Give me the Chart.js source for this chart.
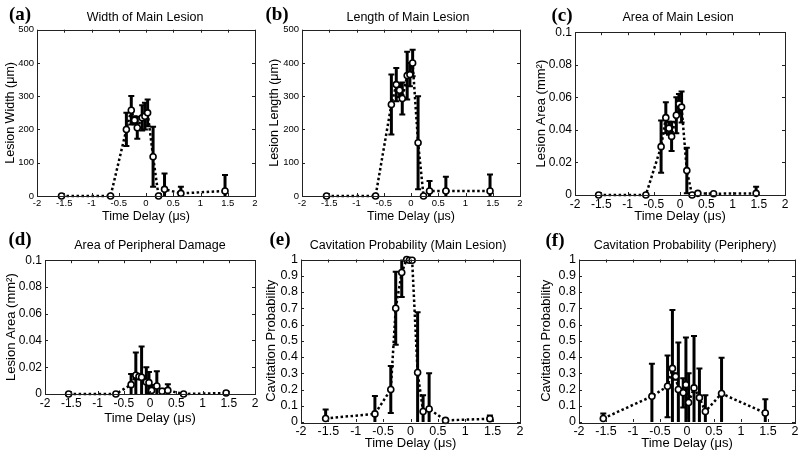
<!DOCTYPE html>
<html>
<head>
<meta charset="utf-8">
<script src="https://cdn.jsdelivr.net/npm/chart.js@4.4.0/dist/chart.umd.min.js"></script>
<style>
html, body { margin:0; padding:0; background:#fff; overflow:hidden; width:800px; height:451px; position:relative; }
canvas { position:absolute; }
.ttl { position:absolute; transform:translate(-50%,-50%); font-family:"Liberation Sans", Arial, sans-serif; font-size:12.5px; white-space:nowrap; color:#000; }
.lbl { position:absolute; transform:translate(-50%,-50%); font-family:"Liberation Serif", serif; font-weight:bold; font-size:19px; color:#000; }
</style>
</head>
<body>
<script>
// time delays (us), shared by all panels
var delays = [-1.55, -0.65, -0.36, -0.27, -0.21, -0.16, -0.07, -0.02, 0.03, 0.13, 0.23, 0.34, 0.64, 1.45];

var widthMain = [0, 0, 200, 258, 228, 205, 235, 240, 250, 118, 0, 20, 8, 15];
var widthErr  = [0, 0, 50, 43, 12, 33, 38, 40, 40, 90, 0, 48, 20, 48];

var lengthMain = [0, 0, 275, 335, 318, 293, 362, 365, 400, 160, 0, 15, 15, 15];
var lengthErr  = [0, 0, 90, 50, 20, 48, 72, 35, 40, 140, 0, 30, 43, 50];

var areaMain = [0, 0, 0.0297, 0.0475, 0.041, 0.036, 0.049, 0.056, 0.054, 0.015, 0, 0.001, 0.0008, 0.001];
var areaErr  = [0, 0, 0.016, 0.0095, 0.004, 0.009, 0.011, 0.006, 0.0095, 0.014, 0, 0, 0, 0.004];

var areaPeri = [0, 0, 0.007, 0.014, 0.013, 0.0125, 0.009, 0.0085, 0.0027, 0.006, 0.002, 0.0027, 0, 0.0007];
var areaPeriErr = [0, 0, 0.008, 0.017, 0.002, 0.023, 0.011, 0.008, 0.004, 0.011, 0.002, 0.0045, 0, 0.0013];

var probMain = [0.022, 0.05, 0.2, 0.70, null, 0.92, 1.0, 0.995, 0.995, 0.305, 0.065, 0.08, 0.01, 0.02];
var probMainErr = [0.055, 0.11, 0.145, 0.225, 0, 0.15, 0, 0, 0, 0.37, 0.1, 0.22, 0, 0.02];

var probPeri = [0.022, 0.158, 0.22, 0.33, 0.28, 0.20, 0.18, 0.23, 0.12, 0.21, 0.15, 0.065, 0.175, 0.055];
var probPeriErr = [0.03, 0.2, 0.19, 0.36, 0.02, 0.29, 0.09, 0.29, 0.18, 0.32, 0.18, 0.1, 0.22, 0.085];

var panels = [
  {letter:'(a)', title:'Width of Main Lesion', yLabel:'Lesion Width (μm)', vals:widthMain, err:widthErr, yMax:500, yStep:100,
   area:[37,29,255,196], yTitleX:10, xTitleY:216, tick:9.5, tf:12.5, tx:145, ty:17, lx:20, ly:14},
  {letter:'(b)', title:'Length of Main Lesion', yLabel:'Lesion Length (μm)', vals:lengthMain, err:lengthErr, yMax:500, yStep:100,
   area:[302,29,520,196], yTitleX:274, xTitleY:216, tick:9.5, tf:12.5, tx:408, ty:17, lx:277, ly:14},
  {letter:'(c)', title:'Area of Main Lesion', yLabel:'Lesion Area (mm²)', vals:areaMain, err:areaErr, yMax:0.1, yStep:0.02,
   area:[575,30,785,195], yTitleX:542, xTitleY:216, tick:12, tf:13, tx:678, ty:17, lx:562, ly:15},
  {letter:'(d)', title:'Area of Peripheral Damage', yLabel:'Lesion Area (mm²)', vals:areaPeri, err:areaPeriErr, yMax:0.1, yStep:0.02,
   area:[45,258,255,394], yTitleX:12, xTitleY:418, tick:12, tf:13, tx:150, ty:245, lx:20, ly:239},
  {letter:'(e)', title:'Cavitation Probability (Main Lesion)', yLabel:'Cavitation Probability', vals:probMain, err:probMainErr, yMax:1, yStep:0.1,
   area:[301,257,520,422], yTitleX:272, xTitleY:443, tick:12.5, tf:13, tx:408, ty:245, lx:280, ly:239},
  {letter:'(f)', title:'Cavitation Probability (Periphery)', yLabel:'Cavitation Probability', vals:probPeri, err:probPeriErr, yMax:1, yStep:0.1,
   area:[579,257,795,422], yTitleX:547, xTitleY:443, tick:12.5, tf:13, tx:685, ty:245, lx:555, ly:240}
];

var FONT = '"Liberation Sans", Arial, sans-serif';
function fmt(v) { return String(Math.round(v * 10000) / 10000); }

// error bars under the points, box + inward ticks on top
var matlabLook = {
  id: 'matlabLook',
  beforeDatasetsDraw: function(chart) {
    var ctx = chart.ctx, a = chart.chartArea, xs = chart.scales.x, ys = chart.scales.y;
    var ds = chart.data.datasets[0];
    ctx.save();
    ctx.beginPath();
    ctx.rect(a.left, a.top, a.right - a.left, a.bottom - a.top);
    ctx.clip();
    ctx.strokeStyle = '#000';
    ds.data.forEach(function(p) {
      if (!p.e) return;
      var px = xs.getPixelForValue(p.x);
      var y1 = ys.getPixelForValue(p.y - p.e), y2 = ys.getPixelForValue(p.y + p.e);
      ctx.lineWidth = 3;
      ctx.beginPath(); ctx.moveTo(px, y1); ctx.lineTo(px, y2); ctx.stroke();
      ctx.lineWidth = 2;
      ctx.beginPath();
      ctx.moveTo(px - 3, y1); ctx.lineTo(px + 3, y1);
      ctx.moveTo(px - 3, y2); ctx.lineTo(px + 3, y2);
      ctx.stroke();
    });
    ctx.restore();
  },
  afterDraw: function(chart) {
    var ctx = chart.ctx, a = chart.chartArea, xs = chart.scales.x, ys = chart.scales.y;
    ctx.save();
    ctx.strokeStyle = '#222';
    ctx.lineWidth = 1;
    ctx.strokeRect(Math.round(a.left) + 0.5, Math.round(a.top) + 0.5, Math.round(a.right - a.left), Math.round(a.bottom - a.top));
    ctx.beginPath();
    xs.ticks.forEach(function(t) {
      var px = Math.round(xs.getPixelForValue(t.value)) + 0.5;
      ctx.moveTo(px, a.bottom); ctx.lineTo(px, a.bottom - 3);
      ctx.moveTo(px, a.top); ctx.lineTo(px, a.top + 3);
    });
    ys.ticks.forEach(function(t) {
      var py = Math.round(ys.getPixelForValue(t.value)) + 0.5;
      ctx.moveTo(a.left, py); ctx.lineTo(a.left + 3, py);
      ctx.moveTo(a.right, py); ctx.lineTo(a.right - 3, py);
    });
    ctx.stroke();
    ctx.restore();
  }
};

panels.forEach(function(p) {
  var L = p.area[0], T = p.area[1], R = p.area[2], B = p.area[3];
  var lh = p.tf * 1.2;
  var pt = 8, pr = 7;
  var left = Math.round(p.yTitleX - lh / 2);
  var yw = L - left;
  var xh = Math.round(p.xTitleY + lh / 2) - B;
  var w = yw + (R - L) + pr, h = pt + (B - T) + xh;

  var cv = document.createElement('canvas');
  cv.width = w; cv.height = h;
  cv.style.left = left + 'px'; cv.style.top = (T - pt) + 'px';
  cv.style.width = w + 'px'; cv.style.height = h + 'px';
  document.body.appendChild(cv);

  var t = document.createElement('div');
  t.className = 'ttl'; t.textContent = p.title;
  t.style.left = p.tx + 'px'; t.style.top = p.ty + 'px';
  document.body.appendChild(t);

  var l = document.createElement('div');
  l.className = 'lbl'; l.textContent = p.letter;
  l.style.left = p.lx + 'px'; l.style.top = p.ly + 'px';
  document.body.appendChild(l);

  var pts = [];
  delays.forEach(function(x, i) {
    if (p.vals[i] !== null) pts.push({x: x, y: p.vals[i], e: p.err[i]});
  });

  new Chart(cv, {
    type: 'scatter',
    data: {
      datasets: [{
        data: pts,
        showLine: true,
        borderColor: '#000',
        borderWidth: 2.5,
        borderDash: [2.5, 2.5],
        pointRadius: 3,
        pointBorderWidth: 1.6,
        pointBorderColor: '#000',
        pointBackgroundColor: '#fff',
        backgroundColor: '#fff',
        clip: false
      }]
    },
    options: {
      responsive: false,
      animation: false,
      events: [],
      layout: { padding: { left: 0, top: pt, right: pr, bottom: 0 } },
      plugins: { legend: { display: false }, tooltip: { enabled: false } },
      scales: {
        x: {
          type: 'linear', min: -2, max: 2,
          grid: { display: false, drawTicks: false },
          border: { display: false },
          ticks: { stepSize: 0.5, autoSkip: false, maxRotation: 0, padding: 2, color: '#000',
                   font: { family: FONT, size: p.tick }, callback: fmt },
          title: { display: true, text: 'Time Delay (μs)', color: '#000', padding: 0,
                   font: { family: FONT, size: p.tf } },
          afterFit: function(s) { s.height = xh; }
        },
        y: {
          type: 'linear', min: 0, max: p.yMax,
          grid: { display: false, drawTicks: false },
          border: { display: false },
          ticks: { stepSize: p.yStep, autoSkip: false, padding: 3, color: '#000',
                   font: { family: FONT, size: p.tick }, callback: fmt },
          title: { display: true, text: p.yLabel, color: '#000', padding: 0,
                   font: { family: FONT, size: p.tf } },
          afterFit: function(s) { s.width = yw; }
        }
      }
    },
    plugins: [matlabLook]
  });
});
</script>
</body>
</html>
